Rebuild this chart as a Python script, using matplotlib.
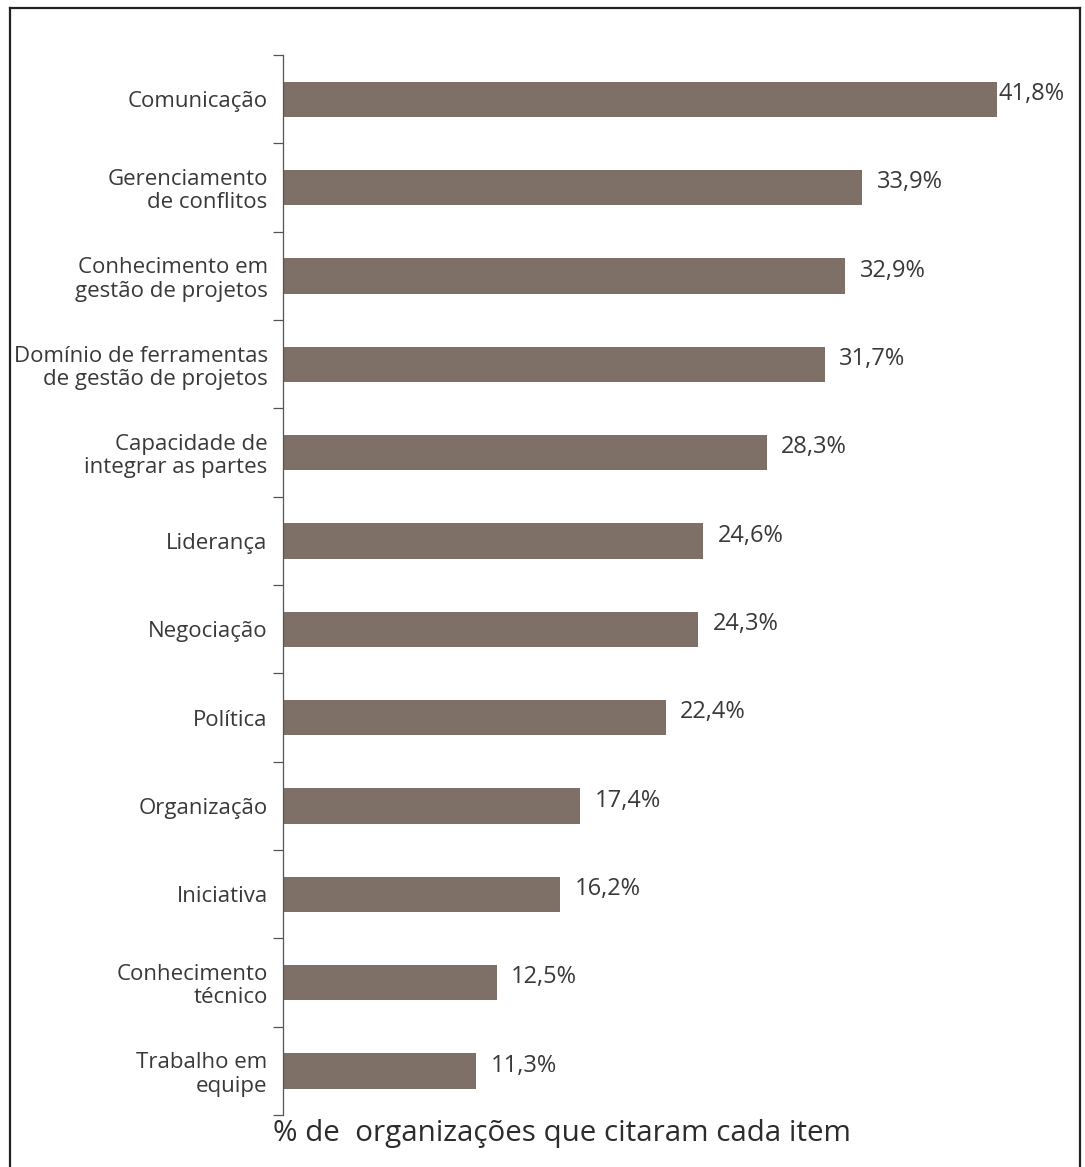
import matplotlib
matplotlib.use("Agg")
import matplotlib.pyplot as plt
from matplotlib.lines import Line2D
import numpy as np

categories = [
    "Comunicação",
    "Gerenciamento\nde conflitos",
    "Conhecimento em\ngestão de projetos",
    "Domínio de ferramentas\nde gestão de projetos",
    "Capacidade de\nintegrar as partes",
    "Liderança",
    "Negociação",
    "Política",
    "Organização",
    "Iniciativa",
    "Conhecimento\ntécnico",
    "Trabalho em\nequipe",
]
values = [41.8, 33.9, 32.9, 31.7, 28.3, 24.6, 24.3, 22.4, 17.4, 16.2, 12.5, 11.3]
value_labels = ["41,8%", "33,9%", "32,9%", "31,7%", "28,3%", "24,6%",
                "24,3%", "22,4%", "17,4%", "16,2%", "12,5%", "11,3%"]
xlabel = "% de  organizações que citaram cada item"

plt.rcParams['font.family'] = ['Open Sans', 'DejaVu Sans']
text_color = "#3b3838"
bar_color = "#7e6f67"

W, H = 1085, 1167
fig = plt.figure(figsize=(W / 100, H / 100), dpi=100)
ax = fig.add_axes([283 / W, 1 - 1115 / H, 786 / W, (1115 - 55) / H])

y = np.arange(len(categories))
ax.barh(y, values, height=0.4, color=bar_color, edgecolor="none")
ax.set_ylim(len(categories) - 0.5, -0.5)
ax.set_xlim(0, 46)

for yi, v, lab in zip(y, values, value_labels):
    pad = 0.05 if v == max(values) else 0.85
    ax.text(v + pad, yi - 0.06, lab, va="center", ha="left",
            fontsize=17, color=text_color)

ax.set_yticks(y)
ax.set_yticklabels(categories, fontsize=16, color=text_color, linespacing=1.15,
                   ha="right")
ax.tick_params(axis="y", which="major", length=0, pad=11)
ax.set_yticks(np.arange(-0.5, len(categories) + 0.5, 1), minor=True)
ax.tick_params(axis="y", which="minor", length=7, width=0.9, color="#555555",
               direction="out")
ax.set_xticks([])

for s in ["top", "right", "bottom"]:
    ax.spines[s].set_visible(False)
ax.spines["left"].set_color("#555555")
ax.spines["left"].set_linewidth(0.9)

fig.text(273 / W, 1 - 1133 / H, xlabel, ha="left", va="center",
         fontsize=21.3, color="#2e2b2b")

# outer frame (left, top, right)
fx0, fx1, fy0 = 10 / W, 1080 / W, 1 - 8 / H
fig.add_artist(Line2D([fx0, fx0], [0, fy0], color="#222222", lw=1.6))
fig.add_artist(Line2D([fx0, fx1], [fy0, fy0], color="#222222", lw=1.6))
fig.add_artist(Line2D([fx1, fx1], [0, fy0], color="#222222", lw=1.6))

fig.savefig("out.png", dpi=100)
